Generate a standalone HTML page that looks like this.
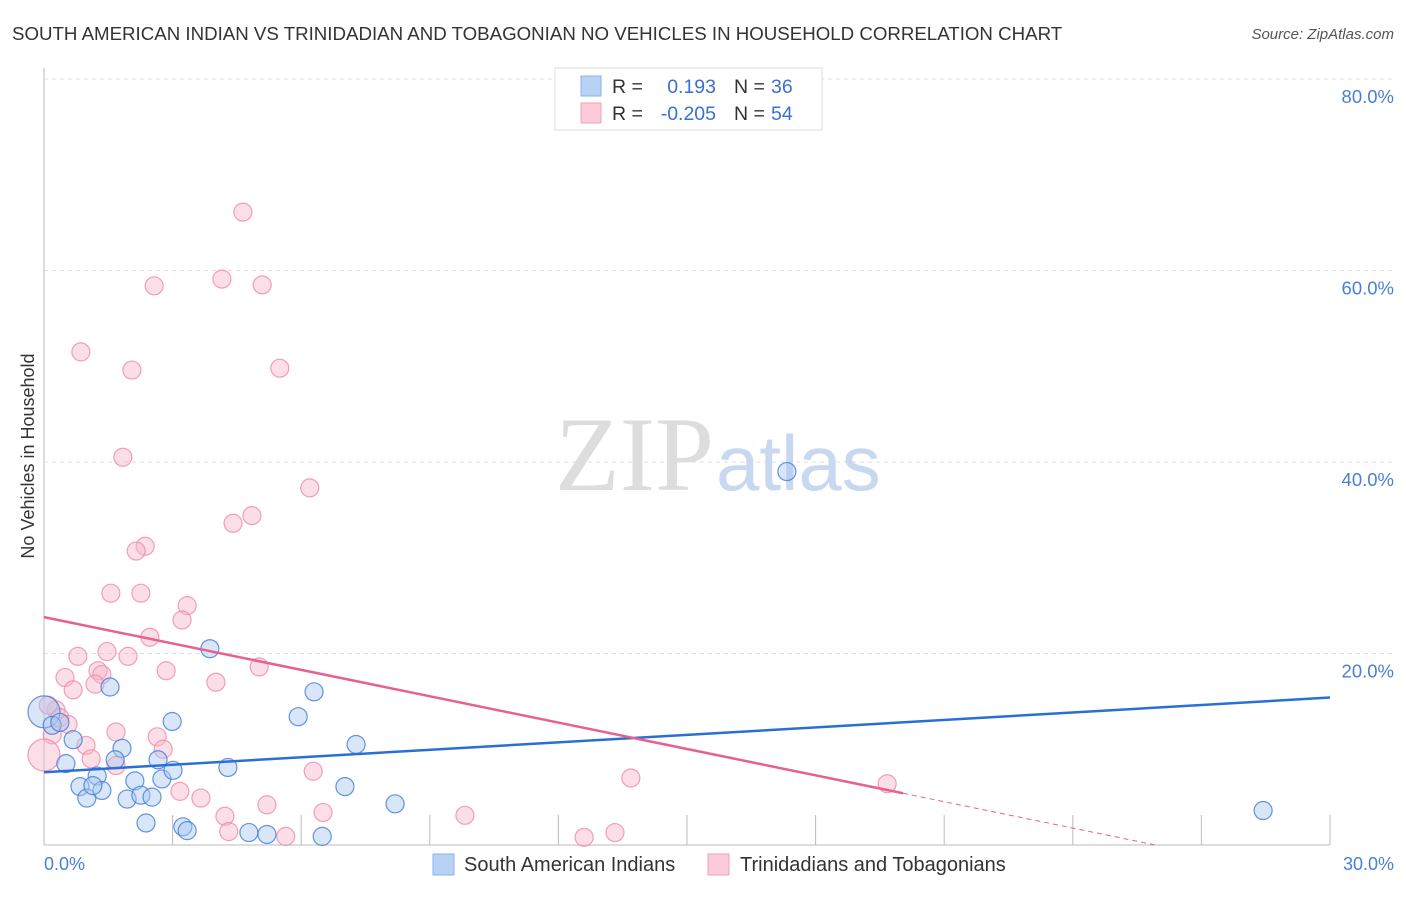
<!DOCTYPE html>
<html><head><meta charset="utf-8"><style>
body{margin:0;background:#fff;font-family:"Liberation Sans",sans-serif}
svg text{font-family:"Liberation Sans",sans-serif}
</style></head><body>
<svg width="1406" height="892">
<text x="12" y="40" font-size="18.7" fill="#333">SOUTH AMERICAN INDIAN VS TRINIDADIAN AND TOBAGONIAN NO VEHICLES IN HOUSEHOLD CORRELATION CHART</text>
<text x="1394" y="39" font-size="15" fill="#555" text-anchor="end" font-style="italic">Source: ZipAtlas.com</text>
<g id="grid"></g>
<text x="714" y="490" font-size="106" fill="#ddd" text-anchor="end" style="font-family:'Liberation Serif',serif">ZIP</text>
<text x="716" y="490" font-size="78" fill="#c8d8f0">atlas</text>
<g id="pts"></g>
<g id="lines"></g>
<text x="34" y="456" font-size="18" fill="#333" text-anchor="middle" transform="rotate(-90 34 456)">No Vehicles in Household</text>
<text x="44" y="870" font-size="18" fill="#4a7fd4">0.0%</text>
<text x="1394" y="870" font-size="18" fill="#4a7fd4" text-anchor="end">30.0%</text>
<g>
<rect x="555" y="68" width="267" height="62" fill="#fff" stroke="#ddd"/>
<rect x="581" y="76" width="20" height="20" fill="#b8d2f5" stroke="#8ab0e8"/>
<rect x="581" y="103" width="20" height="20" fill="#fbcbd9" stroke="#f0a0b8"/>
<text x="612" y="93" font-size="19.5" fill="#333">R =</text>
<text x="716" y="93" font-size="19.5" fill="#3a70d0" text-anchor="end">0.193</text>
<text x="734" y="93" font-size="19.5" fill="#333">N =</text>
<text x="771" y="93" font-size="19.5" fill="#3a70d0">36</text>
<text x="612" y="120" font-size="19.5" fill="#333">R =</text>
<text x="716" y="120" font-size="19.5" fill="#3a70d0" text-anchor="end">-0.205</text>
<text x="734" y="120" font-size="19.5" fill="#333">N =</text>
<text x="771" y="120" font-size="19.5" fill="#3a70d0">54</text>
</g>
<g><rect x="433" y="854" width="21" height="21" fill="#b8d2f5" stroke="#8ab0e8"/><text x="464" y="871" font-size="20" fill="#333">South American Indians</text></g>
<g><rect x="708" y="854" width="21" height="21" fill="#fbcbd9" stroke="#f0a0b8"/><text x="740" y="871" font-size="20" fill="#333">Trinidadians and Tobagonians</text></g>
</svg>
<script>
const yTicks=[20,40,60,80];
const xTicks=[3,6,9,12,15,18,21,24,27,30];
const blueX=[0,0.19,0.37,0.68,0.51,1.54,1.82,1.24,0.84,1.0,1.35,1.14,1.66,1.94,2.12,2.26,2.52,2.38,2.66,2.75,3.01,2.99,3.24,3.34,3.87,4.29,4.78,5.2,5.93,6.3,6.49,7.02,7.28,8.19,17.33,28.44];
const blueY=[13.9,12.5,12.8,11.0,8.5,16.5,10.1,7.2,6.1,4.9,5.7,6.2,8.9,4.8,6.7,5.2,5.0,2.3,8.9,6.9,7.8,12.9,1.9,1.5,20.5,8.1,1.3,1.1,13.4,16.0,0.9,6.1,10.5,4.3,39.0,3.6];
const pinkX=[4.64,4.15,2.57,5.09,0.86,2.05,5.5,1.84,6.2,4.85,4.41,2.36,2.15,1.56,2.26,3.34,3.22,2.47,0.79,1.47,1.96,0.49,1.26,1.35,0.68,1.19,2.85,4.01,5.02,0.28,0.37,0.56,0.19,0,0.98,1.1,1.68,1.68,2.64,2.78,3.17,3.66,4.22,4.31,5.2,5.64,6.28,6.51,9.82,12.6,13.32,13.69,19.67,0.1];
const pinkY=[66.1,59.1,58.4,58.5,51.5,49.6,49.8,40.5,37.3,34.4,33.6,31.2,30.7,26.3,26.3,25.0,23.5,21.7,19.7,20.2,19.7,17.5,18.2,17.8,16.2,16.8,18.2,17.0,18.6,14.1,13.3,12.6,11.5,9.4,10.4,9.0,11.8,8.3,11.3,10.0,5.6,4.9,3.0,1.4,4.2,0.9,7.7,3.4,3.1,0.8,1.3,7.0,6.4,14.6];
const blueLine=[7.6,15.4];
const pinkLine=[23.8,-0.918,20.04];
const NS='http://www.w3.org/2000/svg';
const X=v=>44+v/30*1286, Y=v=>845-v/20*191.5;
function mk(t,a,p){const e=document.createElementNS(NS,t);for(const k in a)e.setAttribute(k,a[k]);p.appendChild(e);return e;}
const grid=document.getElementById('grid');
const ax=mk('line',{x1:44,y1:68,x2:44,y2:845,stroke:'#bbb'},grid);


const bx=mk('line',{x1:44,y1:845,x2:1330,y2:845,stroke:'#bbb'},grid);


yTicks.forEach(t=>{
 const g=mk('line',{x1:44,y1:Y(t),x2:1394,y2:Y(t),stroke:'#ddd','stroke-dasharray':'4,4'},grid);
 
 
 const l=mk('text',{x:1394,y:Y(t)+24,'font-size':18.5,fill:'#4a7fd4','text-anchor':'end'},grid);
 l.textContent=t.toFixed(1)+'%';
 
 
});
xTicks.forEach(t=>{
 const l=mk('line',{x1:X(t),y1:815,x2:X(t),y2:845,stroke:'#bbb'},grid);
 
 
});
const pts=document.getElementById('pts');
function dots(xs,ys,fill,stroke,name){xs.forEach((x,i)=>{
 const r=(x===0)?16:9;
 const c=mk('circle',{cx:X(x),cy:Y(ys[i]),r:r,fill:fill,'fill-opacity':0.45,stroke:stroke,'stroke-width':1.2,'stroke-opacity':0.8},pts);
 
 
});}
dots(pinkX,pinkY,'#f7b6c9','#ee8aa8','trinidadian-point');
dots(blueX,blueY,'#a9c8f0','#3f7ad8','south-american-point');
const L=document.getElementById('lines');
const b=mk('line',{x1:X(0),y1:Y(blueLine[0]),x2:X(30),y2:Y(blueLine[1]),stroke:'#2a6fd6','stroke-width':2.5},L);


const pe=pinkLine[2], p0=-pinkLine[0]/pinkLine[1];
const p=mk('line',{x1:X(0),y1:Y(pinkLine[0]),x2:X(pe),y2:Y(pinkLine[0]+pinkLine[1]*pe),stroke:'#e8608e','stroke-width':2.5},L);


const pd=mk('line',{x1:X(pe),y1:Y(pinkLine[0]+pinkLine[1]*pe),x2:X(p0),y2:Y(0),stroke:'#e8608e','stroke-width':1,'stroke-dasharray':'5,4'},L);


</script>
</body></html>
